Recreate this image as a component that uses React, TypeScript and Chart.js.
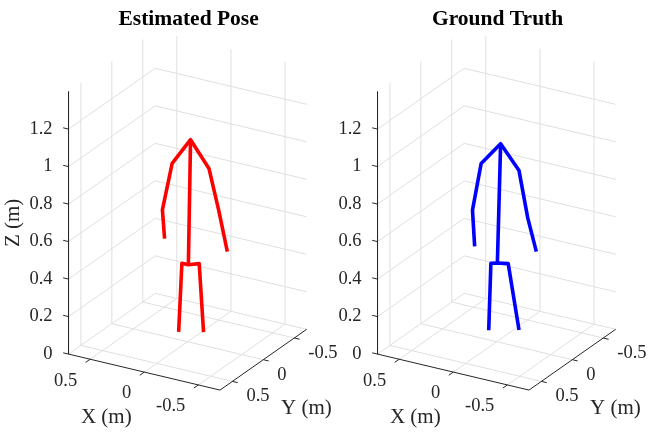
import { useEffect, useRef } from "react";
import { Chart, registerables } from "chart.js";

Chart.register(...registerables);

// ---- Joint data (metres) ----
const jointNames = [
  "neck", "lShoulder", "lElbow", "lHand", "rShoulder", "rElbow",
  "rHand", "pelvis", "lHip", "lFoot", "rHip", "rFoot",
];

const estX = [0.03, 0.2, 0.29, 0.27, -0.14, -0.23, -0.31, 0.05, 0.11, 0.14, -0.05, -0.09];
const estY = [-0.1, -0.1, -0.1, -0.1, -0.1, -0.1, -0.1, -0.1, -0.1, -0.1, -0.1, -0.1];
const estZ = [1.05, 0.9, 0.64, 0.49, 0.92, 0.71, 0.5, 0.38, 0.38, 0.01, 0.4, 0.04];

const gtX = [0.02, 0.2, 0.28, 0.26, -0.15, -0.23, -0.31, 0.05, 0.11, 0.13, -0.05, -0.15];
const gtY = [-0.1, -0.1, -0.1, -0.1, -0.1, -0.1, -0.1, -0.1, -0.1, -0.1, -0.1, -0.1];
const gtZ = [1.03, 0.9, 0.64, 0.45, 0.91, 0.67, 0.5, 0.39, 0.38, 0.02, 0.4, 0.06];

// Kinematic chains (indices into the joint arrays)
const limbChains = [
  [3, 2, 1, 0, 4, 5, 6], // arms through the neck
  [0, 7],                // spine
  [9, 8, 7, 10, 11],     // legs through the pelvis
];

// ---- Axes ----
const xLim = [-0.7, 0.7];
const yLim = [-0.7, 0.7];
const zLim = [0, 1.4];
const xTicks = [-0.5, 0, 0.5];
const yTicks = [-0.5, 0, 0.5];
const zTicks = [0, 0.2, 0.4, 0.6, 0.8, 1, 1.2];

// ---- Layout / projection (screen units of a panel canvas) ----
const H = 432;
const ORIGIN = [187.6, 341.7];
const EX = [-108.2, -25.7];
const EY = [-61.9, 43.4];
const EZ = [0, -187.5];
const TICK_LEN = 5.5;

const SERIF = "'Liberation Serif', 'Times New Roman', serif";
const AXIS_COLOR = "#262626";
const GRID_COLOR = "#dfdfdf";

type P = { x: number; y: number };

function project(x: number, y: number, z: number): P {
  return {
    x: ORIGIN[0] + x * EX[0] + y * EY[0] + z * EZ[0],
    y: ORIGIN[1] + x * EX[1] + y * EY[1] + z * EZ[1],
  };
}

function unit(v: number[], sign: number) {
  const n = Math.hypot(v[0], v[1]);
  return [(sign * v[0]) / n, (sign * v[1]) / n];
}

function offset(p: P, dir: number[], len: number): P {
  return { x: p.x + dir[0] * len, y: p.y + dir[1] * len };
}

function lineSet(data: P[], color: string, width: number, order: number) {
  return {
    data,
    showLine: true,
    pointRadius: 0,
    pointHoverRadius: 0,
    borderColor: color,
    backgroundColor: color,
    borderWidth: width,
    borderJoinStyle: "round" as const,
    borderCapStyle: "butt" as const,
    order,
  };
}

function buildDatasets(xs: number[], ys: number[], zs: number[], color: string) {
  const [x0, x1] = xLim;
  const [y0, y1] = yLim;
  const [z0, z1] = zLim;
  const sets: any[] = [];

  // grid: back walls and floor
  zTicks.forEach((zt) =>
    sets.push(lineSet([project(x1, y1, zt), project(x1, y0, zt), project(x0, y0, zt)], GRID_COLOR, 1, 3))
  );
  yTicks.forEach((yt) =>
    sets.push(lineSet([project(x0, yt, z0), project(x1, yt, z0), project(x1, yt, z1)], GRID_COLOR, 1, 3))
  );
  xTicks.forEach((xt) =>
    sets.push(lineSet([project(xt, y1, z0), project(xt, y0, z0), project(xt, y0, z1)], GRID_COLOR, 1, 3))
  );

  // axis lines: Z, then X along the front, then Y
  sets.push(
    lineSet(
      [project(x1, y1, z1), project(x1, y1, z0), project(x0, y1, z0), project(x0, y0, z0)],
      AXIS_COLOR, 1, 2
    )
  );

  // tick marks pointing outward
  const dirPX = unit(EX, 1);
  const dirPY = unit(EY, 1);
  const dirNX = unit(EX, -1);
  zTicks.forEach((zt) => {
    const p = project(x1, y1, zt);
    sets.push(lineSet([p, offset(p, dirPX, TICK_LEN)], AXIS_COLOR, 1, 2));
  });
  xTicks.forEach((xt) => {
    const p = project(xt, y1, z0);
    sets.push(lineSet([p, offset(p, dirPY, TICK_LEN)], AXIS_COLOR, 1, 2));
  });
  yTicks.forEach((yt) => {
    const p = project(x0, yt, z0);
    sets.push(lineSet([p, offset(p, dirNX, TICK_LEN)], AXIS_COLOR, 1, 2));
  });

  // skeleton
  limbChains.forEach((chain) =>
    sets.push(lineSet(chain.map((j) => project(xs[j], ys[j], zs[j])), color, 3.6, 0))
  );
  return sets;
}

const axisText = {
  id: "axisText",
  afterDraw(chart: any, _args: any, opts: any) {
    const { ctx } = chart;
    const sx = chart.scales.x;
    const sy = chart.scales.y;
    const put = (
      text: string, p: P, font: string, color: string,
      align: CanvasTextAlign, baseline: CanvasTextBaseline, rotate = 0
    ) => {
      ctx.save();
      ctx.translate(sx.getPixelForValue(p.x), sy.getPixelForValue(p.y));
      if (rotate) ctx.rotate(rotate);
      ctx.font = font;
      ctx.fillStyle = color;
      ctx.textAlign = align;
      ctx.textBaseline = baseline;
      ctx.fillText(text, 0, 0);
      ctx.restore();
    };
    const [x0, x1] = xLim;
    const [y0, y1] = yLim;
    const tickFont = `18.5px ${SERIF}`;
    const labelFont = `21px ${SERIF}`;

    zTicks.forEach((zt) => {
      const p = project(x1, y1, zt);
      put(String(zt), { x: p.x - 16, y: p.y }, tickFont, AXIS_COLOR, "right", "middle");
    });
    xTicks.forEach((xt) => {
      const p = project(xt, y1, 0);
      put(String(xt), { x: p.x - 13, y: p.y + 21.5 }, tickFont, AXIS_COLOR, "right", "middle");
    });
    yTicks.forEach((yt) => {
      const p = project(x0, yt, 0);
      put(String(yt), { x: p.x + 14, y: p.y + 15 }, tickFont, AXIS_COLOR, "left", "middle");
    });

    const xMid = project(0, y1, 0);
    put("X (m)", { x: xMid.x - 38, y: xMid.y + 45 }, labelFont, AXIS_COLOR, "center", "middle");
    const yMid = project(x0, (y0 + y1) / 2, 0);
    put("Y (m)", { x: yMid.x + 43, y: yMid.y + 49 }, labelFont, AXIS_COLOR, "center", "middle");
    if (opts.zLabel) {
      const zMid = project(x1, y1, (zLim[0] + zLim[1]) / 2);
      put("Z (m)", { x: zMid.x - 55, y: zMid.y }, labelFont, AXIS_COLOR, "center", "middle", -Math.PI / 2);
    }
    put(opts.title, { x: ORIGIN[0] + 1, y: 25 }, `bold 21.5px ${SERIF}`, "#000000", "center", "alphabetic");
  },
};

type PanelProps = {
  title: string;
  xs: number[];
  ys: number[];
  zs: number[];
  color: string;
  zLabel: boolean;
  left: number;
  width: number;
};

function PosePanel({ title, xs, ys, zs, color, zLabel, left, width }: PanelProps) {
  const ref = useRef<HTMLCanvasElement>(null);

  useEffect(() => {
    const canvas = ref.current;
    if (!canvas) return;
    const chart = new Chart(canvas, {
      type: "scatter",
      data: { datasets: buildDatasets(xs, ys, zs, color) },
      options: {
        animation: false,
        responsive: false,
        maintainAspectRatio: false,
        devicePixelRatio: 1,
        events: [],
        layout: { padding: 0 },
        scales: {
          x: { type: "linear", display: false, min: 0, max: width },
          y: { type: "linear", display: false, min: 0, max: H, reverse: true },
        },
        plugins: {
          legend: { display: false },
          tooltip: { enabled: false },
          axisText: { title, zLabel },
        } as any,
      },
      plugins: [axisText],
    });
    return () => chart.destroy();
  }, [title, xs, ys, zs, color, zLabel, width]);

  return (
    <canvas
      ref={ref}
      width={width}
      height={H}
      style={{ position: "absolute", left, top: 0, width, height: H }}
    />
  );
}

export default function App() {
  return (
    <div
      style={{
        position: "fixed",
        left: 0,
        top: 0,
        width: 650,
        height: H,
        background: "#ffffff",
        overflow: "hidden",
      }}
    >
      <PosePanel title="Estimated Pose" xs={estX} ys={estY} zs={estZ} color="#ff0000" zLabel left={0} width={345} />
      <PosePanel title="Ground Truth" xs={gtX} ys={gtY} zs={gtZ} color="#0000ff" zLabel={false} left={309} width={341} />
    </div>
  );
}
